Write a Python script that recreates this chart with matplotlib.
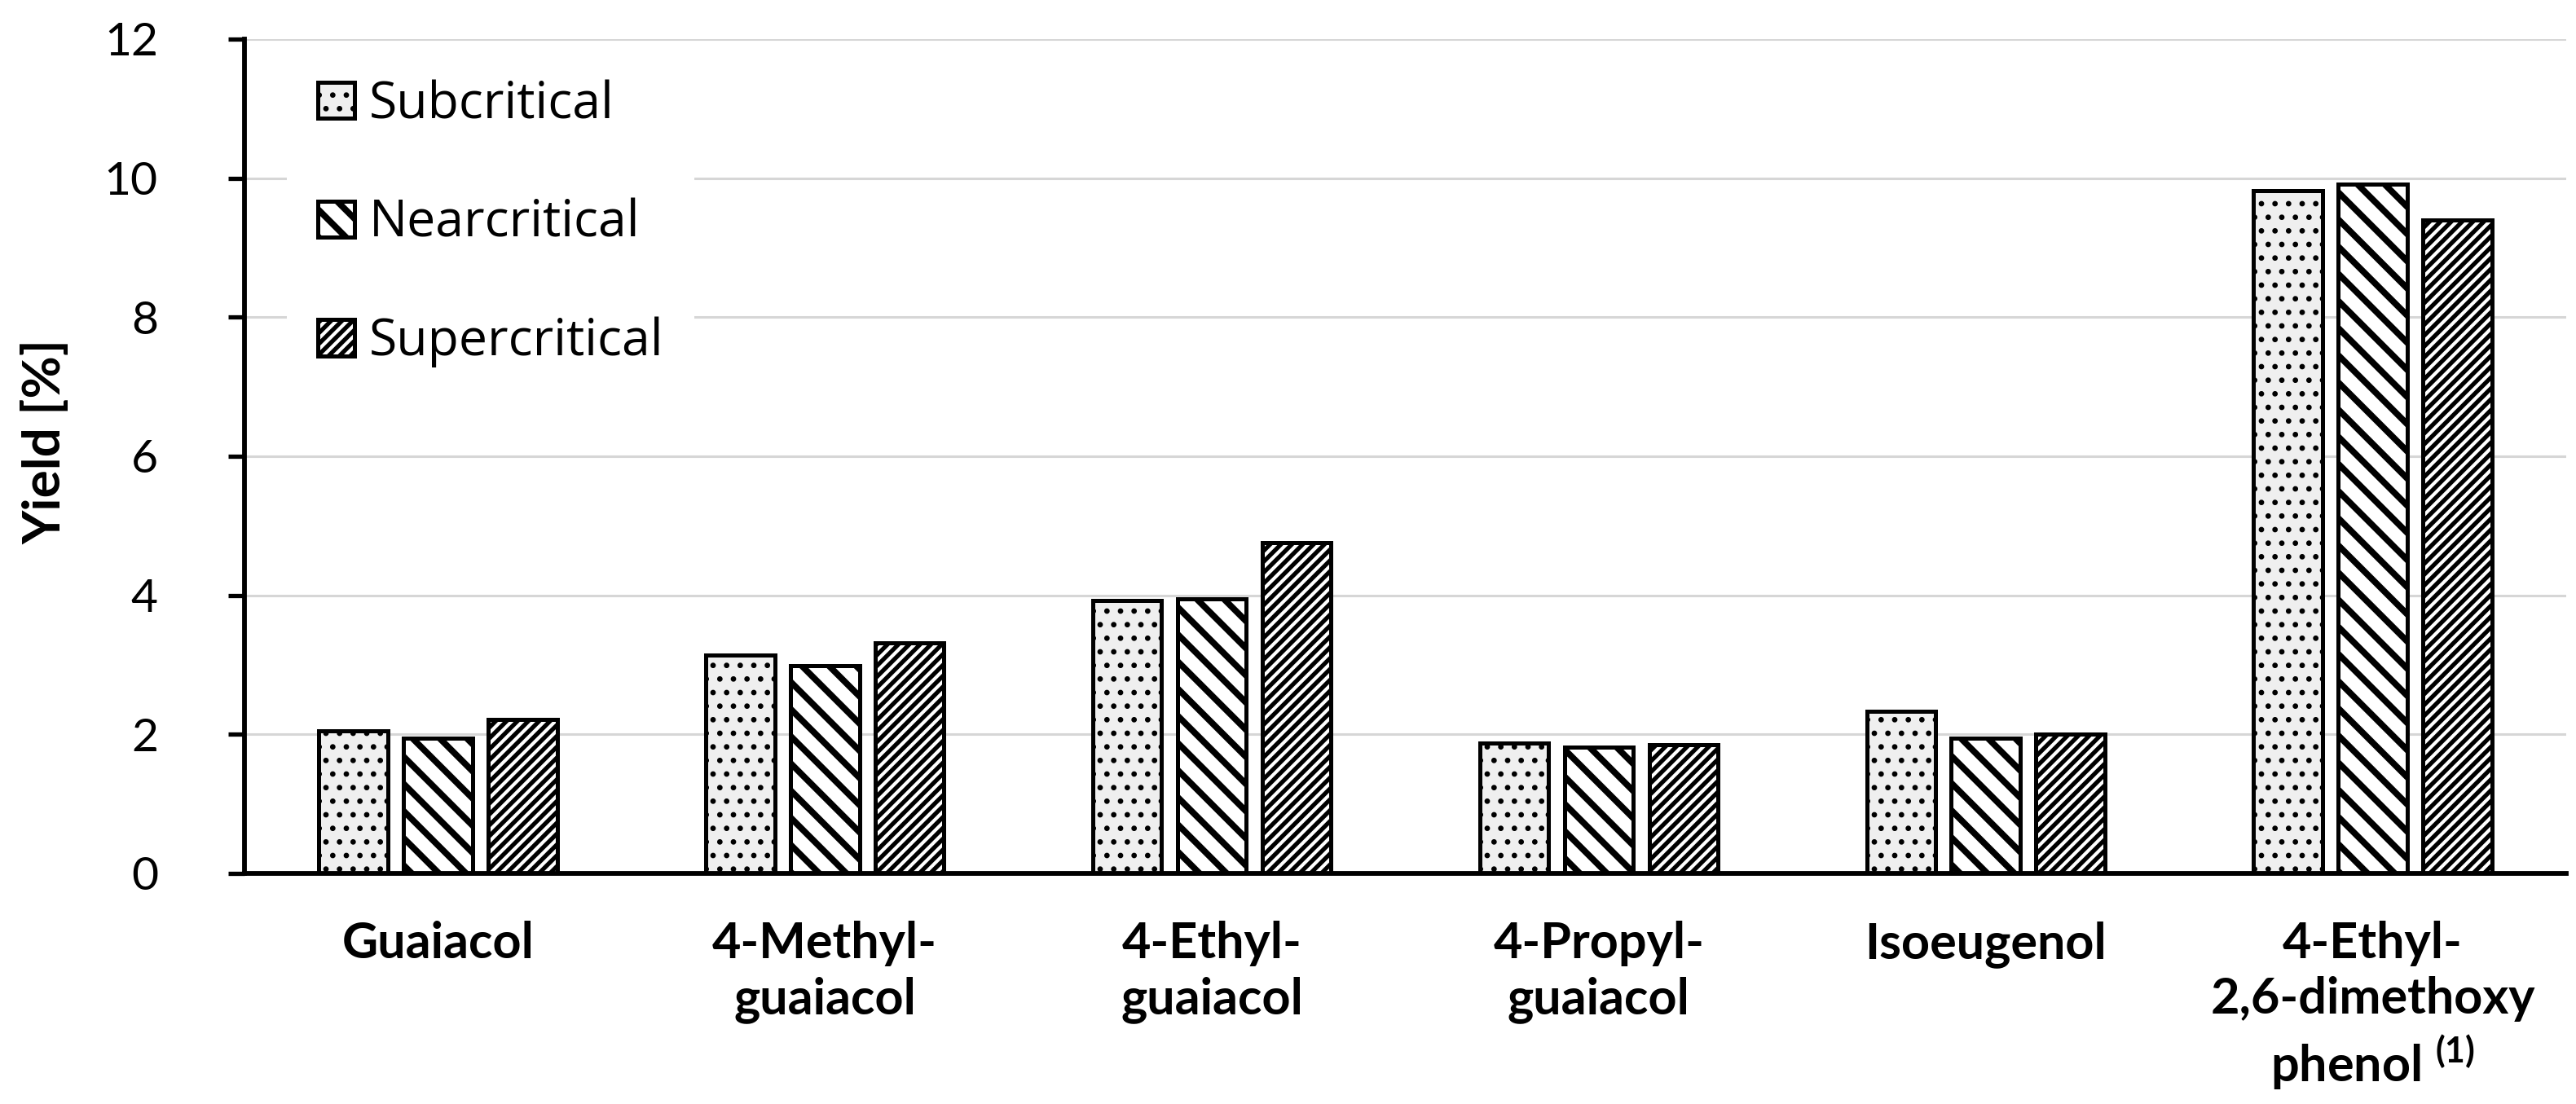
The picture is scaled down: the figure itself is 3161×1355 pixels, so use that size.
import matplotlib
matplotlib.use("Agg")
import matplotlib.pyplot as plt
import numpy as np

categories = ["Guaiacol", "4-Methyl-\nguaiacol", "4-Ethyl-\nguaiacol",
              "4-Propyl-\nguaiacol", "Isoeugenol",
              "4-Ethyl-\n2,6-dimethoxy\nphenol $^{\\mathbf{(1)}}$"]
series_names = ["Subcritical", "Nearcritical", "Supercritical"]
subcritical = [2.05, 3.14, 3.93, 1.87, 2.33, 9.82]
nearcritical = [1.94, 2.99, 3.95, 1.82, 1.94, 9.91]
supercritical = [2.22, 3.32, 4.76, 1.85, 2.00, 9.40]
yticks = [0, 2, 4, 6, 8, 10, 12]

plt.rcParams['font.family'] = ['Lato', 'DejaVu Sans']
plt.rcParams['mathtext.fontset'] = 'custom'
plt.rcParams['mathtext.rm'] = 'Lato:bold'
plt.rcParams['mathtext.bf'] = 'Lato:bold'
plt.rcParams['mathtext.it'] = 'Lato:bold'

DPI = 200
fig = plt.figure(figsize=(3161 / DPI, 1355 / DPI), dpi=DPI)
ax = fig.add_axes([300 / 3161, 1 - 1072 / 1355, (3149 - 300) / 3161, (1072 - 48) / 1355])


def set_hlw(artist, lw):
    if hasattr(artist, 'set_hatch_linewidth'):
        artist.set_hatch_linewidth(lw)
    elif hasattr(artist, '_hatch_linewidth'):
        artist._hatch_linewidth = lw
    orig = artist.draw

    def draw(renderer, *args, **kwargs):
        with plt.rc_context({'hatch.linewidth': lw}):
            return orig(renderer, *args, **kwargs)
    artist.draw = draw


x = np.arange(len(categories))
bw = 0.178
off = 0.219
styles = [
    dict(facecolor='#efefef', hatch='..', hlw=1.2),
    dict(facecolor='white', hatch='\\\\', hlw=2.8),
    dict(facecolor='white', hatch='/////', hlw=1.9),
]
data = [subcritical, nearcritical, supercritical]
for i, (vals, st, name) in enumerate(zip(data, styles, series_names)):
    with plt.rc_context({'hatch.linewidth': st['hlw']}):
        bars = ax.bar(x + (i - 1) * off, vals, width=bw, facecolor=st['facecolor'],
                      edgecolor='black', linewidth=1.8, hatch=st['hatch'], label=name,
                      zorder=3)
    for b in bars:
        set_hlw(b, st['hlw'])

ax.set_xlim(-0.5, len(categories) - 0.5)
ax.set_ylim(0, 12)
ax.set_yticks(yticks)
ax.set_yticklabels([str(t) for t in yticks], fontsize=20.5)
ax.set_xticks(x)
ax.set_xticklabels(categories, fontsize=22, fontweight='bold', linespacing=1.25)
ax.tick_params(axis='x', length=0, pad=21)
ax.tick_params(axis='y', length=7.2, width=1.9, pad=31, direction='out')
ax.grid(axis='y', color='#d6d6d6', linewidth=1.1, zorder=0)
ax.set_axisbelow(True)
for s in ['top', 'right']:
    ax.spines[s].set_visible(False)
for s in ['left', 'bottom']:
    ax.spines[s].set_linewidth(2.1)
    ax.spines[s].set_zorder(4)

ax.set_ylabel("Yield [%]", fontsize=23, fontweight='bold')
ax.yaxis.set_label_coords(-(300 - 84) / 2849, (1072 - 542) / 1024)

leg = ax.legend(loc='upper left', bbox_to_anchor=(52 / 2849, 1 - 12 / 1024),
                frameon=True, framealpha=1, facecolor='white', edgecolor='none',
                fancybox=False, borderaxespad=0, borderpad=0.6,
                handlelength=0.72, handleheight=0.72, handletextpad=0.3,
                labelspacing=1.33, prop={'family': ['Open Sans', 'DejaVu Sans'], 'size': 22.5})
leg.set_zorder(5)
for h, st in zip(leg.legend_handles, styles):
    set_hlw(h, st['hlw'])

fig.savefig("out.png", dpi=DPI)
